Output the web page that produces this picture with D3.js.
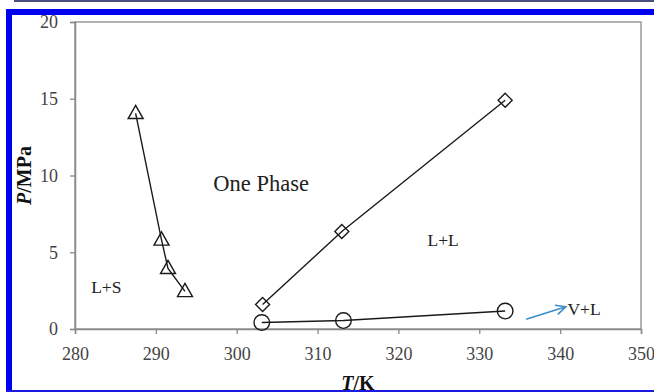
<!DOCTYPE html>
<html>
<head>
<meta charset="utf-8">
<script src="https://cdn.jsdelivr.net/npm/d3@7"></script>
<style>
  body { margin: 0; background: #fff; }
  svg { display: block; }
</style>
</head>
<body>
<svg width="654" height="392"></svg>
<script>
// phase boundary points, T in K, P in MPa
var solidLiquid = [
  { t: 287.5, p: 14.05 },
  { t: 290.7, p: 5.8 },
  { t: 291.5, p: 3.95 },
  { t: 293.6, p: 2.45 }
]
var liquidLiquid = [
  { t: 303.2, p: 1.6 },
  { t: 313.0, p: 6.35 },
  { t: 333.2, p: 14.9 }
]
var vaporLiquid = [
  { t: 303.1, p: 0.42 },
  { t: 313.2, p: 0.55 },
  { t: 333.2, p: 1.17 }
]
var xTicks = [280, 290, 300, 310, 320, 330, 340, 350]
var yTicks = [0, 5, 10, 15, 20]

// region labels
var regionLabels = [
  { text: 'One Phase', t: 297.1, p: 9.0, size: 22.5 },
  { text: 'L+S', t: 282.0, p: 2.35, size: 17.5 },
  { text: 'L+L', t: 323.6, p: 5.4, size: 17.5 },
  { text: 'V+L', t: 340.9, p: 0.9, size: 17.5 }
]

var svg = d3.select('svg')
var plotLeft = 75, plotRight = 641, plotTop = 22, plotBottom = 329
var serif = '"Liberation Serif", "Times New Roman", serif'

var xScale = d3.scaleLinear().domain([280, 350]).range([plotLeft, plotRight])
var yScale = d3.scaleLinear().domain([0, 20]).range([plotBottom, plotTop])

// plot frame
svg.append('rect')
   .attr('x', plotLeft).attr('y', plotTop)
   .attr('width', plotRight - plotLeft).attr('height', plotBottom - plotTop)
   .attr('fill', 'none')
   .attr('stroke', '#9a9a9a')
   .attr('stroke-width', 1.5)

// axes
var xAxis = svg.append('g')
               .attr('transform', `translate(0,${plotBottom})`)
               .call(d3.axisBottom(xScale).tickValues(xTicks).tickSize(5).tickPadding(13))
var yAxis = svg.append('g')
               .attr('transform', `translate(${plotLeft},0)`)
               .call(d3.axisLeft(yScale).tickValues(yTicks).tickSize(5).tickPadding(12))

;[xAxis, yAxis].forEach(function (ax) {
  ax.select('.domain').attr('stroke', '#8a8a8a').attr('stroke-width', 1.5)
  ax.selectAll('.tick line').attr('stroke', '#8a8a8a').attr('stroke-width', 1.3)
  ax.selectAll('.tick text')
    .attr('fill', '#444')
    .style('font-family', serif)
    .style('font-size', '18px')
})

var line = d3.line().x(d => xScale(d.t)).y(d => yScale(d.p))

function drawSeries(data) {
  svg.append('path')
     .datum(data)
     .attr('d', line)
     .attr('fill', 'none')
     .attr('stroke', '#1a1a1a')
     .attr('stroke-width', 1.4)
}

drawSeries(solidLiquid)
drawSeries(liquidLiquid)
drawSeries(vaporLiquid)

svg.selectAll('.tri')
   .data(solidLiquid)
   .enter()
   .append('path')
   .attr('class', 'tri')
   .attr('transform', d => `translate(${xScale(d.t)},${yScale(d.p)})`)
   .attr('d', 'M0,-8L7.5,5.2L-7.5,5.2Z')
   .attr('fill', 'none')
   .attr('stroke', '#1a1a1a')
   .attr('stroke-width', 1.4)

svg.selectAll('.dia')
   .data(liquidLiquid)
   .enter()
   .append('path')
   .attr('class', 'dia')
   .attr('transform', d => `translate(${xScale(d.t)},${yScale(d.p)})`)
   .attr('d', 'M0,-7L7,0L0,7L-7,0Z')
   .attr('fill', 'none')
   .attr('stroke', '#1a1a1a')
   .attr('stroke-width', 1.4)

svg.selectAll('.circ')
   .data(vaporLiquid)
   .enter()
   .append('circle')
   .attr('class', 'circ')
   .attr('cx', d => xScale(d.t))
   .attr('cy', d => yScale(d.p))
   .attr('r', 7.8)
   .attr('fill', 'none')
   .attr('stroke', '#1a1a1a')
   .attr('stroke-width', 1.4)

svg.selectAll('.region')
   .data(regionLabels)
   .enter()
   .append('text')
   .attr('class', 'region')
   .attr('x', d => xScale(d.t))
   .attr('y', d => yScale(d.p))
   .attr('fill', '#222')
   .style('font-family', serif)
   .style('font-size', d => d.size + 'px')
   .text(d => d.text)

// blue arrow pointing at V+L
var ax0 = xScale(335.8), ay0 = yScale(0.63), ax1 = xScale(340.7), ay1 = yScale(1.45)
var ang = Math.atan2(ay1 - ay0, ax1 - ax0)
var head = 11
svg.append('path')
   .attr('d', `M${ax0},${ay0}L${ax1},${ay1}` +
              `M${ax1 - head * Math.cos(ang - 0.45)},${ay1 - head * Math.sin(ang - 0.45)}` +
              `L${ax1},${ay1}` +
              `L${ax1 - head * Math.cos(ang + 0.45)},${ay1 - head * Math.sin(ang + 0.45)}`)
   .attr('fill', 'none')
   .attr('stroke', '#3a8cc6')
   .attr('stroke-width', 1.6)

// axis titles
var yTitle = svg.append('text')
                .attr('transform', `translate(31,${(plotTop + plotBottom) / 2}) rotate(-90)`)
                .attr('text-anchor', 'middle')
                .attr('fill', '#111')
                .style('font-family', serif)
                .style('font-size', '20px')
                .style('font-weight', 'bold')
yTitle.append('tspan').style('font-style', 'italic').text('P')
yTitle.append('tspan').text('/MPa')

var xTitle = svg.append('text')
                .attr('x', (plotLeft + plotRight) / 2)
                .attr('y', 390)
                .attr('text-anchor', 'middle')
                .attr('fill', '#111')
                .style('font-family', serif)
                .style('font-size', '20px')
                .style('font-weight', 'bold')
xTitle.append('tspan').style('font-style', 'italic').text('T')
xTitle.append('tspan').text('/K')

// surrounding frame of the figure
svg.append('rect').attr('x', 14).attr('y', 0).attr('width', 640).attr('height', 2).attr('fill', '#4b5080')
svg.append('rect').attr('x', 6).attr('y', 9).attr('width', 648).attr('height', 6).attr('fill', '#0000f0')
svg.append('rect').attr('x', 6).attr('y', 9).attr('width', 6).attr('height', 383).attr('fill', '#0000f0')
svg.append('rect').attr('x', 6).attr('y', 390).attr('width', 648).attr('height', 2).attr('fill', '#1a1ae0')
</script>
</body>
</html>
